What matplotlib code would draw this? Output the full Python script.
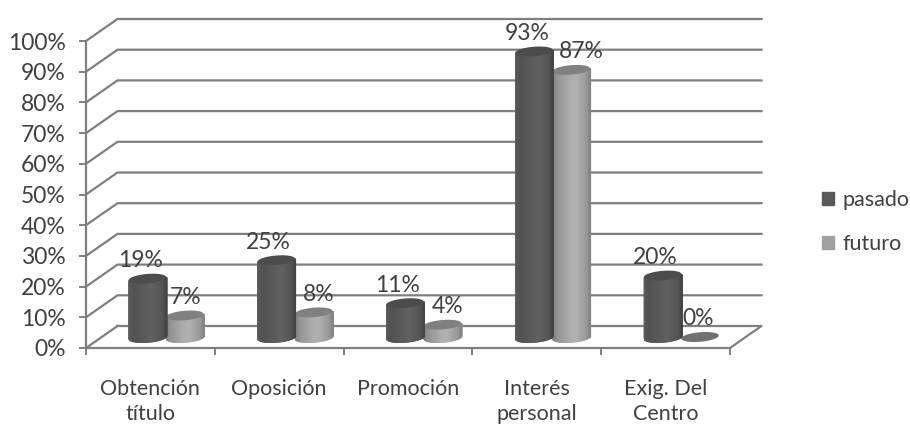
import matplotlib
matplotlib.use('Agg')
import matplotlib.pyplot as plt
from matplotlib.patches import Patch
import numpy as np

# Datos
categorias = ['Obtención\ntítulo', 'Oposición', 'Promoción', 'Interés\npersonal', 'Exig. Del\nCentro']
pasado = [19, 25, 11, 93, 20]
futuro = [7, 8, 4, 87, 0]

# Ajuste fino de las etiquetas, en pixeles
ajuste_pasado = [-7, -8, -8, -7, -7]
ajuste_futuro = [1, 5, 5, 10, -2]

plt.rcParams['font.family'] = ['Lato', 'DejaVu Sans']
texto = '#404040'
gris = '#7f7f7f'

W, H = 910, 425
fig = plt.figure(figsize=(W / 100, H / 100), dpi=100)
# plano frontal del grafico: x 86-730, y 348-41 en pixeles
ax = fig.add_axes([86 / W, (H - 348) / H, 644 / W, 307 / H])
ax.set_xlim(0, 5)
ax.set_ylim(0, 100)

px_x = 5 / 644
px_y = 100 / 307

# Profundidad falsa 3D
dx = 31.5 * px_x
dy = 22 * px_y

# Paredes y lineas de la rejilla
yticks = np.arange(0, 101, 10)
for v in yticks:
    if v == 0:
        ax.plot([0, dx], [v, v + dy], color=gris, lw=1.6, clip_on=False, zorder=1)
        ax.plot([5, 5 + dx, dx], [v, v + dy, v + dy], color=gris, lw=1.6, clip_on=False, zorder=1)
    else:
        ax.plot([0, dx, 5 + dx], [v, v + dy, v + dy], color=gris, lw=1.6, clip_on=False, zorder=1)


def cilindro(cx, valor, base, tapa, zorder):
    ancho = 37.5 * px_x
    alto = 9.5 * px_y
    incl = 1.5 * px_y
    y0 = dy / 2
    t = np.linspace(-np.pi / 2, np.pi / 2, 60)
    xs = np.sin(t)
    if valor > 0:
        # cuerpo hecho con franjas verticales para el degradado
        for i in range(len(t) - 1):
            x = [cx + xs[i] * ancho / 2, cx + xs[i + 1] * ancho / 2]
            abajo = [y0 - alto / 2 * np.cos(t[j]) + incl * xs[j] for j in (i, i + 1)]
            arriba = [y0 + valor + incl * xs[j] for j in (i, i + 1)]
            u = (xs[i] + 1) / 2
            c = np.interp(u, [0, 0.12, 0.45, 0.6, 0.9, 1], base)
            ax.fill_between(x, abajo, arriba, color=str(c), lw=0.8, clip_on=False, zorder=zorder)
    # tapa superior
    a = np.linspace(0, 2 * np.pi, 120)
    ax.fill(cx + np.cos(a) * ancho / 2,
            y0 + valor + np.sin(a) * alto / 2 + incl * np.cos(a),
            color=tapa, lw=0, clip_on=False, zorder=zorder + 0.1)


sombra_pasado = [0.36, 0.32, 0.36, 0.38, 0.33, 0.27]
sombra_futuro = [0.50, 0.58, 0.68, 0.70, 0.60, 0.52]
sep = 18.7 * px_x

for i in range(len(categorias)):
    centro = i + 0.5 + dx / 2
    cilindro(centro + sep, futuro[i], sombra_futuro, '#808080' if futuro[i] > 0 else '#707070', 3)
    cilindro(centro - sep, pasado[i], sombra_pasado, '#4c4c4c', 4)
    ax.annotate(f'{pasado[i]}%', (centro - sep, pasado[i] + dy / 2), xytext=(ajuste_pasado[i] * 0.72, 13),
                textcoords='offset points', ha='center', va='center', fontsize=16.5, color=texto,
                annotation_clip=False, zorder=6)
    ax.annotate(f'{futuro[i]}%', (centro + sep, futuro[i] + dy / 2), xytext=(ajuste_futuro[i] * 0.72, 13),
                textcoords='offset points', ha='center', va='center', fontsize=16.5, color=texto,
                annotation_clip=False, zorder=6)

# Ejes
for lado in ['top', 'right']:
    ax.spines[lado].set_visible(False)
for lado in ['left', 'bottom']:
    ax.spines[lado].set_color(gris)
    ax.spines[lado].set_linewidth(1.6)
    ax.spines[lado].set_zorder(2)

ax.set_yticks(yticks)
ax.set_yticklabels([f'{v}%' for v in yticks], fontsize=16.5, color=texto)
ax.tick_params(axis='y', length=5, width=1.4, color=gris, pad=9.5)

ax.set_xticks(np.arange(0, 6))
ax.set_xticklabels([])
ax.tick_params(axis='x', length=5, width=1.4, color=gris)
ax.set_xticks(np.arange(5) + 0.5, minor=True)
ax.set_xticklabels(categorias, minor=True, fontsize=15.5, color=texto, linespacing=1.35)
ax.tick_params(axis='x', which='minor', length=0, pad=22)

# Leyenda
marcas = [Patch(color='#595959', label='pasado'), Patch(color='#a0a0a0', label='futuro')]
fig.legend(handles=marcas, loc='center left', bbox_to_anchor=(822 / W, 1 - 222 / H), frameon=False,
           fontsize=15.5, labelcolor=texto, handlelength=0.58, handleheight=0.58, handletextpad=0.35,
           labelspacing=1.1, borderpad=0, borderaxespad=0)

fig.savefig('out.png', dpi=100)
